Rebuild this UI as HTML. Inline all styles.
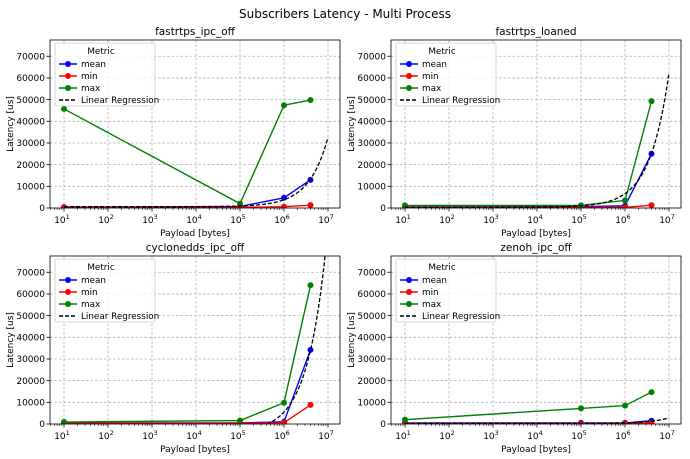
<!DOCTYPE html><html><head><style>body{margin:0;background:#fff}svg{display:block;font-family:"DejaVu Sans","Liberation Sans",sans-serif}</style></head><body>
<svg id="s" width="690" height="459" xmlns="http://www.w3.org/2000/svg"></svg>
<script>
const S=document.getElementById('s');let h='';
h+='<text x="345" y="18" font-size="12" text-anchor="middle">Subscribers Latency - Multi Process</text>';
const X=[10,1e5,1e6,4e6];
const P=[
{t:'fastrtps_ipc_off',ox:0,top:40,bot:208,d:{mean:[400,700,4700,13000],min:[200,300,600,1300],max:[45700,2000,47400,49800]},a:600,b:3.2e-3},
{t:'fastrtps_loaned',ox:341,top:40,bot:208,d:{mean:[500,600,1000,25000],min:[300,300,300,1300],max:[1200,1200,3500,49300]},a:400,b:6.2e-3},
{t:'cyclonedds_ipc_off',ox:0,top:256,bot:424,d:{mean:[500,500,1000,34200],min:[300,300,600,8800],max:[900,1600,9800,64000]},a:-4000,b:9.5e-3},
{t:'zenoh_ipc_off',ox:341,top:256,bot:424,d:{mean:[500,500,500,1500],min:[200,200,300,500],max:[2000,7200,8500,14700]},a:300,b:2.5e-4}];
const C={mean:'#0000ff',min:'#ff0000',max:'#008000'};
P.forEach(p=>{
 const L=50+p.ox,R=340+p.ox,T=p.top,B=p.bot;
 const sc=(B-T)/77500;
 const fx=v=>64+p.ox+(Math.log10(v)-1)*44, fy=v=>B-v*sc;
 h+=`<text x="${(L+R)/2}" y="${T-5}" font-size="10.5" text-anchor="middle">${p.t}</text>`;
 h+=`<defs><clipPath id="c${p.ox}${T}"><rect x="${L}" y="${T}" width="${R-L}" height="${B-T}"/></clipPath></defs>`;
 for(let e=1;e<=7;e++){const x=fx(10**e);
  h+=`<line x1="${x}" y1="${T}" x2="${x}" y2="${B}" stroke="#b0b0b0" stroke-width="0.8" stroke-dasharray="2.5,2"/>`;
  h+=`<line x1="${x}" y1="${B}" x2="${x}" y2="${B+3.5}" stroke="#000" stroke-width="0.8"/>`;
  h+=`<text x="${x-2}" y="${B+15}" font-size="9" text-anchor="middle">10<tspan dy="-4" font-size="6.5">${e}</tspan></text>`;
  for(let k=2;k<10;k++){const m=10**e*k;const xm=fx(m);if(xm>R)break;h+=`<line x1="${xm}" y1="${B}" x2="${xm}" y2="${B+2}" stroke="#000" stroke-width="0.6"/>`;}
 }
 for(let k=1;k<10;k++){const xm=fx(k);if(xm>L)h+=`<line x1="${xm}" y1="${B}" x2="${xm}" y2="${B+2}" stroke="#000" stroke-width="0.6"/>`;}
 for(let v=0;v<=70000;v+=10000){const y=fy(v);
  h+=`<line x1="${L}" y1="${y}" x2="${R}" y2="${y}" stroke="#b0b0b0" stroke-width="0.8" stroke-dasharray="2.5,2"/>`;
  h+=`<line x1="${L-3.5}" y1="${y}" x2="${L}" y2="${y}" stroke="#000" stroke-width="0.8"/>`;
  h+=`<text x="${L-5}" y="${y+3.2}" font-size="9" text-anchor="end">${v}</text>`;}
 h+=`<text x="${(L+R)/2}" y="${B+28}" font-size="9" text-anchor="middle">Payload [bytes]</text>`;
 h+=`<text transform="translate(${L-37},${(T+B)/2}) rotate(-90)" font-size="9" text-anchor="middle">Latency [us]</text>`;
 let g=`<g clip-path="url(#c${p.ox}${T})">`;
 ['mean','min','max'].forEach(k=>{const pts=X.map((x,i)=>fx(x)+','+fy(p.d[k][i])).join(' ');
  g+=`<polyline points="${pts}" fill="none" stroke="${C[k]}" stroke-width="1.4"/>`;
  X.forEach((x,i)=>g+=`<circle cx="${fx(x)}" cy="${fy(p.d[k][i])}" r="3" fill="${C[k]}"/>`);});
 let r=[];for(let i=0;i<=200;i++){const lx=1+6*i/200,x=10**lx;r.push(fx(x)+','+fy(p.a+p.b*x));}
 g+=`<polyline points="${r.join(' ')}" fill="none" stroke="#000" stroke-width="1.3" stroke-dasharray="4,2"/></g>`;
 h+=g;
 h+=`<rect x="${L}" y="${T}" width="${R-L}" height="${B-T}" fill="none" stroke="#000" stroke-width="0.8"/>`;
 const lx=L+5,ly=T+3;
 h+=`<rect x="${lx}" y="${ly}" width="100" height="63" rx="2" fill="#fff" fill-opacity="0.8" stroke="#ccc" stroke-width="0.8"/>`;
 h+=`<text x="${lx+46}" y="${ly+11}" font-size="8.8" text-anchor="middle">Metric</text>`;
 [['mean',C.mean],['min',C.min],['max',C.max],['Linear Regression','#000']].forEach((e,i)=>{const y=ly+21+i*12;
  h+=`<line x1="${lx+4}" y1="${y}" x2="${lx+22}" y2="${y}" stroke="${e[1]}" stroke-width="1.4" ${i==3?'stroke-dasharray="4,2"':''}/>`;
  if(i<3)h+=`<circle cx="${lx+13}" cy="${y}" r="3" fill="${e[1]}"/>`;
  h+=`<text x="${lx+26}" y="${y+3.2}" font-size="8.8">${e[0]}</text>`;});
});
S.innerHTML=h;
</script></body></html>
